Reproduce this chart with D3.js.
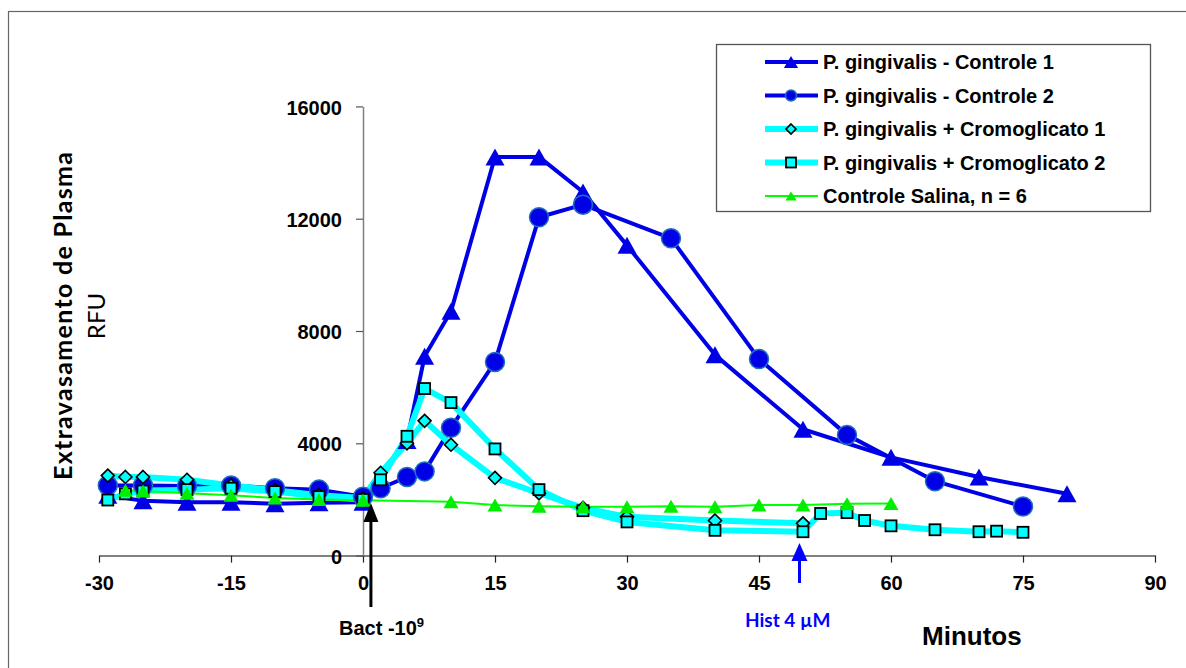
<!DOCTYPE html>
<html><head><meta charset="utf-8">
<script src="https://cdn.jsdelivr.net/npm/d3@7"></script>
<style>body{margin:0;background:#fff} svg{display:block}</style>
</head><body>
<svg id="c" width="1186" height="668"></svg>
<script>
// ---- data ----
const xTicks = [-30, -15, 0, 15, 30, 45, 60, 75, 90];
const yTicks = [0, 4000, 8000, 12000, 16000];

const ctrl1Time = [-29, -25, -20, -15, -10, -5, 0, 5, 7, 10, 15, 20, 25, 30, 40, 50, 60, 70, 80];
const ctrl1Val  = [2150, 1950, 1900, 1900, 1850, 1880, 1900, 4100, 7100, 8700, 14200, 14200, 12950, 11050, 7150, 4500, 3500, 2800, 2200];

const ctrl2Time = [-29, -25, -20, -15, -10, -5, 0, 2, 5, 7, 10, 15, 20, 25, 35, 45, 55, 65, 75];
const ctrl2Val  = [2500, 2500, 2480, 2500, 2400, 2350, 2100, 2400, 2800, 3000, 4550, 6900, 12050, 12500, 11300, 7000, 4300, 2650, 1750];

const crom1Time = [-29, -27, -25, -20, -15, -10, -5, 0, 2, 5, 7, 10, 15, 20, 25, 30, 40, 50];
const crom1Val  = [2850, 2800, 2800, 2700, 2500, 2330, 2150, 2050, 2950, 4000, 4800, 3950, 2770, 2220, 1700, 1380, 1250, 1150];

const crom2Time = [-29, -27, -25, -20, -15, -10, -5, 0, 2, 5, 7, 10, 15, 20, 25, 30, 40, 50, 52, 55, 57, 60, 65, 70, 72, 75];
const crom2Val  = [1980, 2200, 2300, 2350, 2400, 2280, 2100, 2000, 2700, 4250, 5950, 5450, 3800, 2350, 1600, 1200, 900, 850, 1500, 1530, 1250, 1060, 920, 850, 870, 830];

const salTime = [-27, -25, -20, -15, -10, -5, 0, 10, 15, 20, 25, 30, 35, 40, 45, 50, 55, 60];
const salVal  = [2330, 2300, 2220, 2150, 2050, 2000, 1970, 1920, 1800, 1760, 1740, 1740, 1760, 1740, 1800, 1800, 1850, 1860];

const seriesNames = ["P. gingivalis - Controle 1", "P. gingivalis - Controle 2",
  "P. gingivalis + Cromoglicato 1", "P. gingivalis + Cromoglicato 2", "Controle Salina, n = 6"];

const bactTime = 0.9, histTime = 49.6;

// ---- chart ----
const svg = d3.select("#c");
const x = d3.scaleLinear().domain([-30, 90]).range([99, 1155]);
const y = d3.scaleLinear().domain([0, 16000]).range([555.6, 106.4]);

const ARIAL = "'Liberation Sans', Arial, sans-serif";
const CAL = "Lato, 'Open Sans', sans-serif";

// outer frame (left + top visible)
svg.append("rect").attr("x", 8.5).attr("y", 11.5).attr("width", 1300).attr("height", 800)
  .attr("fill", "none").attr("stroke", "#666").attr("stroke-width", 1.2);

const series = [
  {name: seriesNames[0], t: ctrl1Time, v: ctrl1Val, color: "#0000e6", width: 4, marker: "tri"},
  {name: seriesNames[1], t: ctrl2Time, v: ctrl2Val, color: "#0000e6", width: 4, marker: "circle"},
  {name: seriesNames[2], t: crom1Time, v: crom1Val, color: "#00ffff", width: 6, marker: "diamond"},
  {name: seriesNames[3], t: crom2Time, v: crom2Val, color: "#00ffff", width: 6, marker: "square"},
  {name: seriesNames[4], t: salTime, v: salVal, color: "#00ff00", width: 2, marker: "gtri"}
];

function drawMarker(g, type, cx, cy, small) {
  if (type === "tri" || type === "gtri") {
    const w = (type === "tri" ? 19 : 15) * (small ? 0.75 : 1), h = (type === "tri" ? 17 : 13) * (small ? 0.7 : 1);
    g.append("path").attr("d", `M${cx},${cy - h / 2}L${cx + w / 2},${cy + h / 2}L${cx - w / 2},${cy + h / 2}Z`)
      .attr("fill", type === "tri" ? "#0000e6" : "#00ee00");
  } else if (type === "circle") {
    g.append("circle").attr("cx", cx).attr("cy", cy).attr("r", small ? 5.5 : 9.5)
      .attr("fill", "#0000e6").attr("stroke", "#1f6fbf").attr("stroke-width", 1.5);
  } else if (type === "diamond") {
    const r = small ? 5 : 6.5;
    g.append("path").attr("d", `M${cx},${cy - r}L${cx + r},${cy}L${cx},${cy + r}L${cx - r},${cy}Z`)
      .attr("fill", "#00ffff").attr("stroke", "#000").attr("stroke-width", 1.6);
  } else if (type === "square") {
    const r = small ? 5 : 5.5;
    g.append("rect").attr("x", cx - r).attr("y", cy - r).attr("width", 2 * r).attr("height", 2 * r)
      .attr("fill", "#00ffff").attr("stroke", "#000").attr("stroke-width", 1.8);
  }
}

// axes
const xAxis = svg.append("g").attr("transform", `translate(0,${y(0)})`)
  .call(d3.axisBottom(x).tickValues(xTicks).tickSize(7).tickSizeOuter(0).tickFormat(d => String(d)));
xAxis.select(".domain").attr("stroke", "#808080").attr("stroke-width", 2);
xAxis.selectAll(".tick line").attr("stroke", "#222").attr("stroke-width", 1.2);
xAxis.selectAll("text").attr("y", 34).attr("dy", 0)
  .style("font-family", ARIAL).style("font-weight", "bold").style("font-size", "20px").attr("fill", "#000");

const yAxis = svg.append("g").attr("transform", `translate(${x(0)},0)`)
  .call(d3.axisLeft(y).tickValues(yTicks).tickSize(7).tickSizeOuter(0).tickPadding(14).tickFormat(d => String(d)));
yAxis.select(".domain").attr("stroke", "#808080").attr("stroke-width", 1.5);
yAxis.selectAll(".tick line").attr("stroke", "#555").attr("stroke-width", 1.2);
yAxis.selectAll("text").attr("dy", "0.38em")
  .style("font-family", ARIAL).style("font-weight", "bold").style("font-size", "20px").attr("fill", "#000");

// lines
const line = d3.line().x(d => x(d[0])).y(d => y(d[1]));
const linesG = svg.append("g");
series.forEach(s => {
  const pts = s.t.map((t, i) => [t, s.v[i]]);
  linesG.append("path").datum(pts).attr("d", line).attr("fill", "none")
    .attr("stroke", s.color).attr("stroke-width", s.width).attr("stroke-linejoin", "round");
});
// markers
const markG = svg.append("g");
series.forEach(s => {
  s.t.forEach((t, i) => drawMarker(markG, s.marker, x(t), y(s.v[i]), false));
});

// annotations: arrows
function arrow(xp, tipY, baseY, endY, color, w, hw) {
  svg.append("line").attr("x1", xp).attr("x2", xp).attr("y1", baseY).attr("y2", endY)
    .attr("stroke", color).attr("stroke-width", w);
  svg.append("path").attr("d", `M${xp},${tipY}L${xp + hw},${baseY + 1}L${xp - hw},${baseY + 1}Z`).attr("fill", color);
}
arrow(x(bactTime), 503, 521, 607, "#000", 3, 7.5);
arrow(x(histTime), 543, 560, 583, "#0000ff", 3, 8);

const bact = svg.append("text").attr("x", 339).attr("y", 635)
  .style("font-family", ARIAL).style("font-weight", "bold").style("font-size", "20px");
bact.append("tspan").text("Bact -10");
bact.append("tspan").attr("dy", -8).style("font-size", "13px").text("9");

svg.append("text").attr("x", 745).attr("y", 627).text("Hist 4 µM")
  .style("font-family", CAL).style("font-weight", "bold").style("font-size", "19px").attr("fill", "#0000ff");

svg.append("text").attr("x", 922).attr("y", 645).text("Minutos")
  .style("font-family", ARIAL).style("font-weight", "bold").style("font-size", "26px");

// y titles
svg.append("text").attr("transform", "translate(72,316) rotate(-90)").attr("text-anchor", "middle")
  .attr("textLength", 328).text("Extravasamento de Plasma")
  .style("font-family", CAL).style("font-weight", "bold").style("font-size", "25px");
svg.append("text").attr("transform", "translate(105,316) rotate(-90)").attr("text-anchor", "middle")
  .text("RFU").style("font-family", CAL).style("font-size", "24px");

// legend
const lg = svg.append("g");
lg.append("rect").attr("x", 716.5).attr("y", 44.5).attr("width", 434).attr("height", 167)
  .attr("fill", "#fff").attr("stroke", "#555").attr("stroke-width", 1.3);
const rowY = d3.scalePoint().domain(seriesNames).range([62, 196]);
series.forEach(s => {
  const yy = rowY(s.name);
  lg.append("line").attr("x1", 765).attr("x2", 818).attr("y1", yy).attr("y2", yy)
    .attr("stroke", s.color).attr("stroke-width", s.width);
  drawMarker(lg, s.marker, 791, yy, true);
  lg.append("text").attr("x", 823).attr("y", yy + 7).text(s.name)
    .style("font-family", ARIAL).style("font-weight", "bold").style("font-size", "20px");
});
</script>
</body></html>
